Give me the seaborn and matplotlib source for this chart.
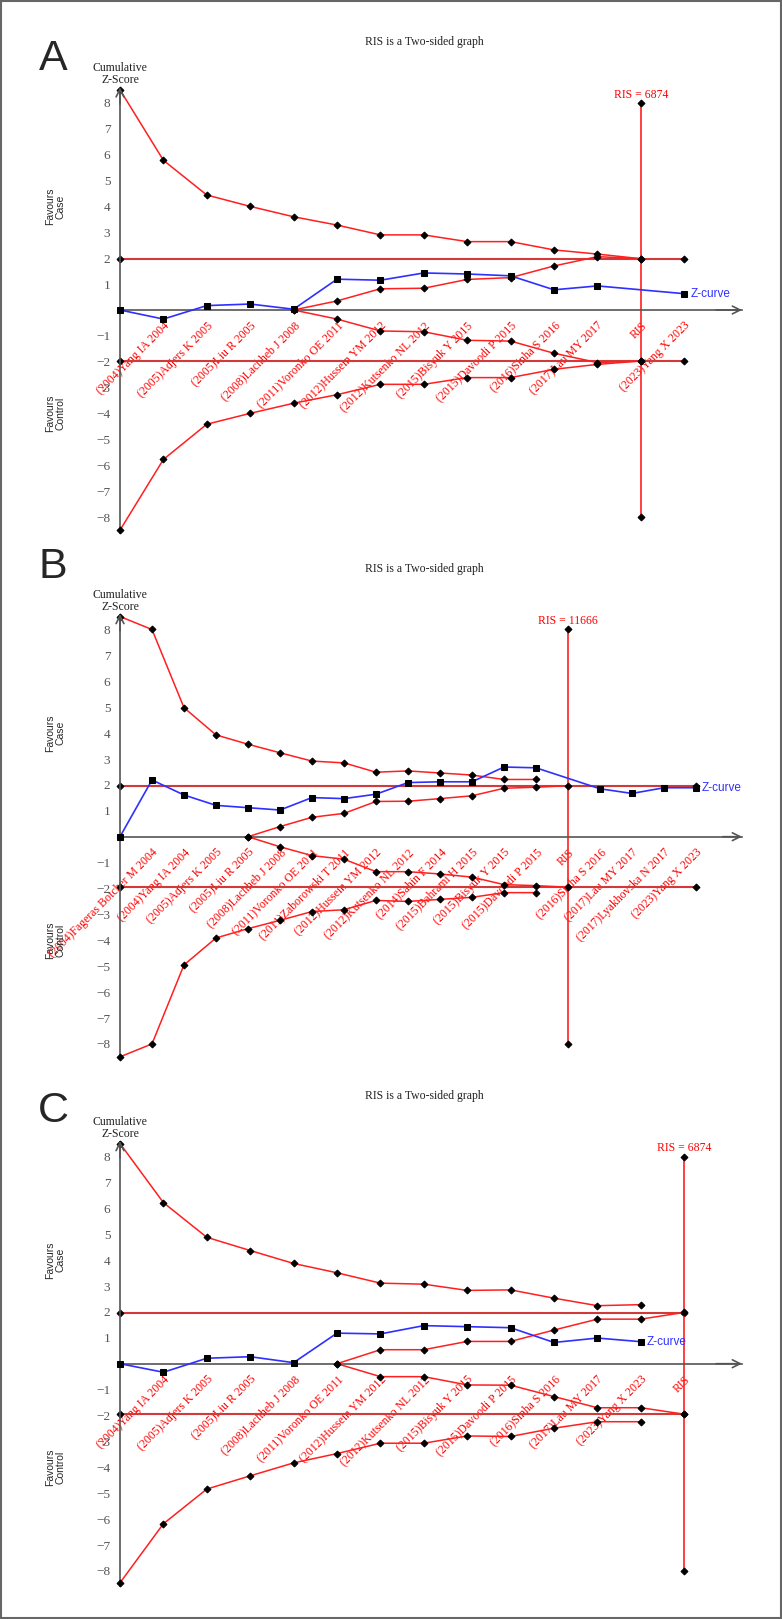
import numpy as np
import pandas as pd
import seaborn as sns
import matplotlib.pyplot as plt
from matplotlib.patches import Rectangle

nan = np.nan

# ---- panel A ----
a_labels = ["(2004)Yang IA 2004", "(2005)Adjers K 2005", "(2005)Liu R 2005",
            "(2008)Lachheb J 2008", "(2011)Voronko OE 2011", "(2012)Hussein YM 2012",
            "(2012)Kutsenko NL 2012", "(2015)Bisyuk Y 2015", "(2015)Davoodi P 2015",
            "(2016)Sinha S 2016", "(2017)Lau MY 2017", "RIS", "(2023)Yang X 2023"]
a_z = [0, -0.35, 0.17, 0.23, 0.03, 1.19, 1.15, 1.43, 1.39, 1.32, 0.78, 0.93, nan, 0.63]
a_upper = [8.5, 5.78, 4.44, 4.0, 3.6, 3.28, 2.9, 2.9, 2.64, 2.64, 2.32, 2.16, 1.98, nan]
a_lower = [-8.5, -5.77, -4.41, -3.99, -3.6, -3.27, -2.87, -2.87, -2.61, -2.61, -2.29, -2.1, -1.97, nan]
a_inner_upper = [nan, nan, nan, nan, 0, 0.35, 0.82, 0.84, 1.18, 1.25, 1.70, 2.06, 1.98, nan]
a_inner_lower = [nan, nan, nan, nan, 0, -0.35, -0.81, -0.84, -1.17, -1.2, -1.67, -2.03, -1.97, nan]
a_ris = 6874

# ---- panel B ----
b_labels = ["(2004)Fageras Botcher M 2004", "(2004)Yang IA 2004", "(2005)Adjers K 2005",
            "(2005)Liu R 2005", "(2008)Lachheb J 2008", "(2011)Voronko OE 2011",
            "(2011)Zaborowski T 2011", "(2012)Hussein YM 2012", "(2012)Kutsenko NL 2012",
            "(2014)Sahin F 2014", "(2015)Bahrami H 2015", "(2015)Bisyuk Y 2015",
            "(2015)Davoodi P 2015", "RIS", "(2016)Sinha S 2016", "(2017)Lau MY 2017",
            "(2017)Lyakhovska N 2017", "(2023)Yang X 2023"]
b_z = [0, 2.19, 1.61, 1.21, 1.12, 1.03, 1.51, 1.47, 1.64, 2.09, 2.12, 2.12, 2.69, 2.66,
       nan, 1.85, 1.67, 1.89, 1.89]
b_upper = [8.5, 8.0, 4.98, 3.93, 3.57, 3.24, 2.92, 2.85, 2.49, 2.54, 2.46, 2.38, 2.21, 2.21,
           nan, nan, nan, nan, nan]
b_lower = [-8.5, -8.0, -4.95, -3.91, -3.55, -3.23, -2.89, -2.82, -2.46, -2.5, -2.42, -2.34,
           -2.16, -2.16, nan, nan, nan, nan, nan]
b_inner_upper = [nan, nan, nan, nan, 0, 0.39, 0.75, 0.9, 1.36, 1.37, 1.47, 1.58, 1.87, 1.91,
                 1.97, nan, nan, nan, nan]
b_inner_lower = [nan, nan, nan, nan, 0, -0.39, -0.73, -0.87, -1.35, -1.35, -1.44, -1.56,
                 -1.85, -1.89, -1.95, nan, nan, nan, nan]
b_ris = 11666

# ---- panel C ----
c_labels = ["(2004)Yang IA 2004", "(2005)Adjers K 2005", "(2005)Liu R 2005",
            "(2008)Lachheb J 2008", "(2011)Voronko OE 2011", "(2012)Hussein YM 2012",
            "(2012)Kutsenko NL 2012", "(2015)Bisyuk Y 2015", "(2015)Davoodi P 2015",
            "(2016)Sinha S 2016", "(2017)Lau MY 2017", "(2023)Yang X 2023", "RIS"]
c_z = [0, -0.33, 0.21, 0.27, 0.04, 1.18, 1.15, 1.47, 1.43, 1.39, 0.82, 0.99, 0.85, nan]
c_upper = [8.5, 6.22, 4.88, 4.37, 3.87, 3.51, 3.11, 3.07, 2.83, 2.85, 2.53, 2.24, 2.28, nan]
c_lower = [-8.46, -6.18, -4.84, -4.33, -3.83, -3.47, -3.07, -3.07, -2.79, -2.81, -2.49,
           -2.24, -2.24, nan]
c_inner_upper = [nan, nan, nan, nan, nan, 0, 0.54, 0.54, 0.86, 0.86, 1.30, 1.72, 1.72, 1.98]
c_inner_lower = [nan, nan, nan, nan, nan, 0, -0.50, -0.50, -0.82, -0.83, -1.27, -1.70, -1.70, -1.95]
c_ris = 6874

conv_z = 1.96
ris_top, ris_bottom = 8, -8

sns.set_style("white")
plt.rcParams['font.family'] = ['Liberation Serif', 'DejaVu Serif']
SANS = ['Liberation Sans', 'DejaVu Sans']

W, H = 782, 1619
fig = plt.figure(figsize=(W / 100, H / 100), dpi=100)

RED = '#ff1f1f'
CONV = '#d23a3a'
BLUE = '#2f2fff'
AXC = '#555555'


def px_rect(l, t, r, b):
    return [l / W, 1 - b / H, (r - l) / W, (b - t) / H]


def draw_line(ax, xs, ys, color, marker, ms, lw=1.1, z=2):
    df = pd.DataFrame({"pos": xs, "val": ys}).dropna()
    sns.lineplot(data=df, x="pos", y="val", ax=ax, estimator=None, sort=False,
                 color=color, lw=lw, marker=marker, markersize=ms,
                 markerfacecolor="black", markeredgecolor="black",
                 clip_on=False, zorder=z)


def draw_panel(letter, y0, dx, letter_y, labels, z, upper, lower, inner_up, inner_lo, ris_n):
    unit = 25.9
    top_v, bot_v = 8.55, -8.6
    left, right = 120, 742
    ax = fig.add_axes(px_rect(left, y0 - top_v * unit, right, y0 - bot_v * unit))
    ax.patch.set_visible(False)
    xs = np.arange(len(labels) + 1)
    n = len(labels)
    ris_idx = labels.index("RIS") + 1

    # conventional boundaries
    for s in (1, -1):
        draw_line(ax, [0, n], [s * conv_z, s * conv_z], CONV, 'D', 3.5, lw=1.5, z=2)
    # RIS line
    draw_line(ax, [ris_idx, ris_idx], [ris_top, ris_bottom], RED, 'D', 3.5, lw=1.2, z=2)
    # monitoring and futility boundaries
    for series in (upper, lower, inner_up, inner_lo):
        draw_line(ax, xs, series, RED, 'D', 3.5, lw=1.1, z=3)
    # Z-curve
    draw_line(ax, xs, z, BLUE, 's', 4.5, lw=1.2, z=4)

    ax.set_xlim(0, (right - left) / dx)
    ax.set_ylim(bot_v, top_v)
    ax.set_xlabel('')
    ax.set_ylabel('')

    for side in ('top', 'right'):
        ax.spines[side].set_visible(False)
    ax.spines['bottom'].set_position(('data', 0))
    for side in ('left', 'bottom'):
        ax.spines[side].set_color(AXC)
        ax.spines[side].set_linewidth(1.2)

    ax.set_yticks([v for v in range(-8, 9) if v != 0])
    ax.tick_params(axis='y', direction='out', length=5, width=1.1, color=AXC,
                   labelcolor=AXC, labelsize=9.5, pad=2)
    ax.set_xticks(xs[1:])
    ax.set_xticklabels(labels)
    ax.tick_params(axis='x', direction='out', length=6, width=1.1, color=AXC,
                   labelcolor='red', labelsize=8.5, pad=1)
    for lbl in ax.get_xticklabels():
        lbl.set_rotation(45)
        lbl.set_ha('right')
        lbl.set_va('top')
        lbl.set_rotation_mode('anchor')

    # axis arrows
    ax.annotate('', xy=(0, top_v + 0.05), xytext=(0, top_v - 0.6),
                arrowprops=dict(arrowstyle='->', color=AXC, lw=1.2, mutation_scale=14,
                                shrinkA=0, shrinkB=0), annotation_clip=False)
    xmax = (right - left) / dx
    ax.annotate('', xy=(xmax, 0), xytext=(xmax - 0.6, 0),
                arrowprops=dict(arrowstyle='->', color=AXC, lw=1.2, mutation_scale=14,
                                shrinkA=0, shrinkB=0), annotation_clip=False)

    # texts
    last = [i for i, v in enumerate(z) if not np.isnan(v)][-1]
    ax.text(last + 6 / dx, z[last], 'Z-curve', color=BLUE, family=SANS, fontsize=8.5,
            va='center', ha='left')
    ax.text(ris_idx, ris_top + 0.32, f'RIS = {ris_n}', color='red', fontsize=8.5,
            ha='center', va='center')
    ax.text(0, 9.1, 'Cumulative\nZ-Score', color='#222222', fontsize=8.5, ha='center',
            va='center', linespacing=1.0)

    fig.text(424 / W, 1 - (y0 - 268) / H, 'RIS is a Two-sided graph', color='#222222',
             fontsize=8.5, ha='center', va='center')
    fig.text(53 / W, 1 - letter_y / H, letter, family=SANS, fontsize=31, ha='center',
             va='center')
    fig.text(55 / W, 1 - (y0 - 4 * unit) / H, 'Favours\nCase', family=SANS, fontsize=7.5,
             rotation=90, ha='center', va='center', linespacing=1.0)
    fig.text(55 / W, 1 - (y0 + 4 * unit) / H, 'Favours\nControl', family=SANS, fontsize=7.5,
             rotation=90, ha='center', va='center', linespacing=1.0)


draw_panel('A', 310.0, 43.4, 59, a_labels, a_z, a_upper, a_lower, a_inner_upper, a_inner_lower, a_ris)
draw_panel('B', 836.7, 32.0, 567, b_labels, b_z, b_upper, b_lower, b_inner_upper, b_inner_lower, b_ris)
draw_panel('C', 1363.7, 43.4, 1111, c_labels, c_z, c_upper, c_lower, c_inner_upper, c_inner_lower, c_ris)

fig.patches.append(Rectangle((0.7 / W, 0.7 / H), (W - 1.4) / W, (H - 1.4) / H,
                             transform=fig.transFigure, fill=False, ec='#666666', lw=1.5))

fig.savefig('out.png', dpi=100)
